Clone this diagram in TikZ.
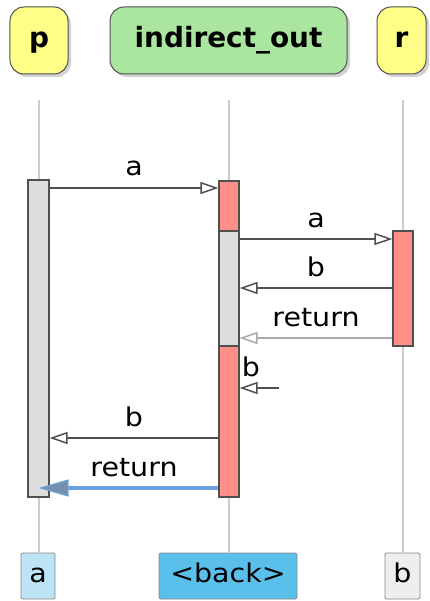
\documentclass[tikz,border=0pt]{standalone}
\usepackage{fontspec}
\setmainfont{DejaVu Sans}
\newfontfamily\lblfont{DejaVu Sans}[FakeStretch=1.1]
\usetikzlibrary{arrows.meta,positioning,shadows,calc}
\definecolor{sqInk}{HTML}{505050}
\definecolor{sqLine}{HTML}{CCCCCC}
\definecolor{sqYellow}{HTML}{FFFF88}
\definecolor{sqGreen}{HTML}{AAE6A0}
\definecolor{sqGrey}{HTML}{DDDDDD}
\definecolor{sqRed}{HTML}{FF8F88}
\definecolor{sqRet}{HTML}{AAAAAA}
\definecolor{sqBlue}{HTML}{6AA2DE}
\definecolor{sqSky}{HTML}{5ABFEB}
\definecolor{sqPale}{HTML}{BDE4F6}
\definecolor{sqPaper}{HTML}{EEEEEE}
\tikzset{
  head/.style    ={draw=sqInk,line width=1bp,rounded corners=14bp,
                   font=\fontsize{28}{34}\selectfont\bfseries,
                   minimum height=67bp,text height=21bp,text depth=7bp,
                   drop shadow={shadow xshift=3bp,shadow yshift=-3bp,opacity=0.35}},
  foot/.style    ={draw=sqRet!80!black,line width=0.8bp,rounded corners=1.5bp,
                   font=\lblfont\fontsize{26}{32}\selectfont,inner xsep=0pt,
                   minimum height=46bp,text height=20bp,text depth=7bp},
  life/.style    ={sqLine,line width=1.2bp},
  bar/.style     ={draw=sqInk,line width=1.2bp,inner sep=0pt,minimum width=20bp},
  msg/.style     ={-{Triangle[open,length=18bp,width=12bp,line width=1.5bp]},
                   sqInk,line width=1.6bp},
  ret/.style     ={msg,sqRet},
  retblue/.style ={-{Triangle[length=30bp,width=17bp,fill=sqBlue!50!gray,line width=1.2bp]},
                   sqBlue,line width=3.2bp},
  lbl/.style     ={midway,anchor=base,yshift=12bp,inner sep=0pt,
                   font=\lblfont\fontsize{26}{32}\selectfont,text=black},
}
\begin{document}
\begin{tikzpicture}[x=1bp,y=-1bp]
\useasboundingbox[fill=white] (0,0) rectangle (429,601);

% participants
\node[head,fill=sqYellow,minimum width=58bp,inner xsep=0pt] (hp) at (39,40.5) {p};
\node[head,fill=sqGreen,minimum width=237bp] (hind) at (228.5,40.5) {indirect\_out};
\node[head,fill=sqYellow,minimum width=49bp,inner xsep=0pt] (hr) at (401.5,40.5) {r};

% footers
\node[foot,fill=sqPale,minimum width=34bp] (fa) at (38,576) {a};
\node[foot,fill=sqSky,minimum width=138bp] (fback) at (228,576) {<back>};
\node[foot,fill=sqPaper,minimum width=35bp] (fb) at (402.5,576) {b};

% lifelines
\coordinate (tp) at (39,100);
\coordinate (ti) at (229,100);
\coordinate (tr) at (403,100);
\draw[life] (tp) -- (tp |- fa.north);
\draw[life] (ti) -- (ti |- fback.north);
\draw[life] (tr) -- (tr |- fb.north);

% activations
\node[bar,fill=sqGrey,minimum width=21bp,minimum height=317bp] (barP) at (38.5,338.5) {};
\node[bar,fill=sqRed,minimum height=316bp] (barI) at (229,339) {};
\node[bar,fill=sqGrey,minimum height=115bp] (barIg) at (229,288.5) {};
\node[bar,fill=sqRed,minimum height=115bp] (barR) at (403,288.5) {};

% message levels
\coordinate (y1) at (0,188);
\coordinate (y2) at (0,239);
\coordinate (y3) at (0,288);
\coordinate (y4) at (0,338);
\coordinate (y5) at (0,388);
\coordinate (y6) at (0,438);
\coordinate (y7) at (0,488);
\coordinate (f5) at (279,388);

\draw[msg] (barP.east |- y1) -- (barI.west |- y1) node[lbl] {a};
\draw[msg] (barIg.east |- y2) -- (barR.west |- y2) node[lbl] {a};
\draw[msg] (barR.west |- y3) -- (barIg.east |- y3) node[lbl] {b};
\draw[ret] (barR.west |- y4) -- (barIg.east |- y4) node[lbl] {return};
\draw[msg] (f5) -- (barI.east |- f5);
\node[anchor=base west,inner sep=0pt,font=\lblfont\fontsize{26}{32}\selectfont]
  (lb5) at ($(barI.east |- f5)+(2,-12)$) {b};
\draw[msg] (barI.west |- y6) -- (barP.east |- y6) node[lbl] {b};
\draw[retblue] (barI.west |- y7) -- (barP.center |- y7);
\path (barP.east |- y7) -- (barI.west |- y7) node[lbl] (lb7) {return};
\end{tikzpicture}
\end{document}
